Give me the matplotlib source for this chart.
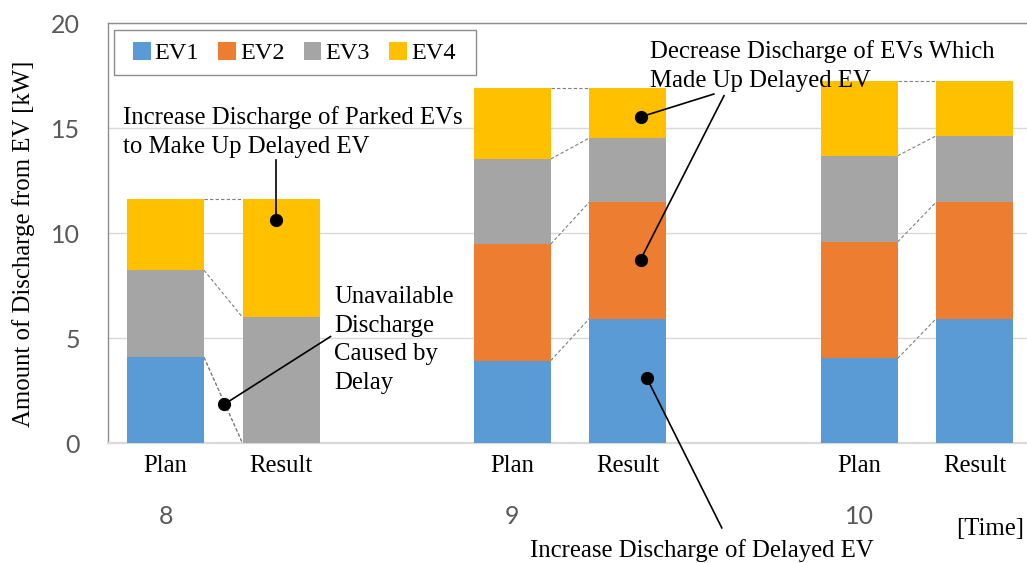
import matplotlib
matplotlib.use("Agg")
import matplotlib.pyplot as plt
from matplotlib.patches import Rectangle
import numpy as np

# ---- data (bars in order: Plan 8, Result 8, Plan 9, Result 9, Plan 10, Result 10)
time_slots = ["8", "9", "10"]
bar_labels = ["Plan", "Result", "Plan", "Result", "Plan", "Result"]
series_names = ["EV1", "EV2", "EV3", "EV4"]
ev1 = [4.1, 0.0, 3.95, 5.95, 4.05, 5.95]
ev2 = [0.0, 0.0, 5.55, 5.55, 5.55, 5.55]
ev3 = [4.15, 6.0, 4.05, 3.05, 4.1, 3.15]
ev4 = [3.4, 5.65, 3.4, 2.4, 3.55, 2.6]
colors = ["#5B9BD5", "#ED7D31", "#A5A5A5", "#FFC000"]

serif = "Liberation Serif"
sans = "Lato"
gray_txt = "#595959"
fs = 17.8

fig = plt.figure(figsize=(10.27, 5.63), dpi=100)
ax = fig.add_axes([0.1049, 0.2123, 0.9005, 0.746])

pos = np.array([0, 1, 3, 4, 6, 7], dtype=float)
width = 0.666
data = [ev1, ev2, ev3, ev4]
bottom = np.zeros(len(pos))
cum = []
for name, vals, c in zip(series_names, data, colors):
    vals = np.array(vals)
    ax.bar(pos, vals, width, bottom=bottom, color=c, label=name, zorder=3,
           edgecolor="none")
    bottom = bottom + vals
    cum.append(bottom.copy())

# dashed series lines between Plan and Result bars
for g in range(3):
    p, r = 2 * g, 2 * g + 1
    for level in cum:
        ax.plot([pos[p] + width / 2, pos[r] - width / 2], [level[p], level[r]],
                color="#7f7f7f", lw=0.8, ls=(0, (3, 2)), zorder=2)

ax.set_xlim(-0.5, 7.5)
ax.set_ylim(0, 20)
ax.set_yticks([0, 5, 10, 15, 20])
ax.yaxis.grid(True, color="#D9D9D9", lw=1, zorder=0)
ax.set_axisbelow(True)
ax.tick_params(axis="y", length=0, pad=20, labelsize=18, labelcolor=gray_txt)
for lab in ax.get_yticklabels():
    lab.set_fontfamily(sans)
ax.set_xticks(pos)
ax.set_xticklabels(bar_labels, fontfamily=serif, fontsize=fs)
ax.tick_params(axis="x", length=0, pad=8)

for s in ["left", "top"]:
    ax.spines[s].set_color("#8c8c8c")
    ax.spines[s].set_linewidth(1.0)
ax.spines["bottom"].set_color("#D9D9D9")
ax.spines["bottom"].set_linewidth(1.6)
ax.spines["right"].set_visible(False)

ax.set_ylabel("Amount of Discharge from EV [kW]", fontfamily=serif, fontsize=fs)
ax.yaxis.set_label_coords(-0.0790, 0.475)

# group labels
for i, t in enumerate(time_slots):
    ax.text(pos[2 * i], -3.49, t, ha="center", va="center", fontfamily=sans,
            fontsize=18, color=gray_txt)
ax.text(7.43, -4.06, "[Time]", ha="right", va="center", fontfamily=serif, fontsize=fs)

# legend (frame drawn separately)
leg = ax.legend(loc="center left", bbox_to_anchor=(0.0274, 0.929),
                ncol=4, frameon=False,
                prop={"family": serif, "size": 17.5}, handlelength=0.72,
                handleheight=0.72, handletextpad=0.17, borderaxespad=0,
                borderpad=0, columnspacing=0.79)
ax.add_patch(Rectangle((0.0068, 0.8774), 0.3914, 0.1071, transform=ax.transAxes,
                       fill=True, facecolor="white", edgecolor="#8c8c8c", lw=1.0,
                       zorder=4))
leg.set_zorder(5)

# annotations
tkw = dict(fontfamily=serif, fontsize=fs, color="black", linespacing=1.38)
lkw = dict(color="black", lw=1.2, clip_on=False, zorder=6)
dkw = dict(marker="o", ms=8.5, color="black", clip_on=False, zorder=7, ls="none")

ax.text(-0.368, 14.83, "Increase Discharge of Parked EVs\nto Make Up Delayed EV",
        ha="left", va="center", **tkw)
ax.plot([0.956, 0.956], [13.5, 10.64], **lkw)
ax.plot([0.956], [10.64], **dkw)

ax.text(1.457, 4.93, "Unavailable\nDischarge\nCaused by\nDelay", ha="left", va="center", **tkw)
ax.plot([1.427, 0.509], [5.09, 1.87], **lkw)
ax.plot([0.509], [1.87], **dkw)

ax.text(4.188, 17.98, "Decrease Discharge of EVs Which\nMade Up Delayed EV",
        ha="left", va="center", **tkw)
ax.plot([4.743, 4.109], [16.64, 15.55], **lkw)
ax.plot([4.831, 4.109], [16.56, 8.75], **lkw)
ax.plot([4.109, 4.109], [15.55, 8.75], **dkw)

ax.text(4.637, -5.12, "Increase Discharge of Delayed EV", ha="center", va="center", **tkw)
ax.plot([4.812, 4.164], [-4.02, 3.11], **lkw)
ax.plot([4.164], [3.11], **dkw)

fig.savefig("out.png", dpi=100)
